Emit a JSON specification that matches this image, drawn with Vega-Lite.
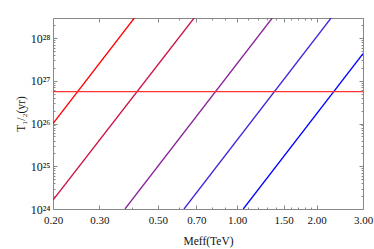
{
  "$schema": "https://vega.github.io/schema/vega-lite/v6.json",
  "width": 310,
  "height": 191,
  "autosize": "none",
  "padding": {"left": 53, "top": 18, "right": 11, "bottom": 40},
  "background": "white",
  "config": {
    "view": {"stroke": null},
    "font": "Liberation Serif",
    "axis": {
      "labelFont": "Liberation Serif",
      "titleFont": "Liberation Serif",
      "labelColor": "#111",
      "titleColor": "#111",
      "labelFontSize": 11,
      "titleFontSize": 11.5,
      "titleFontWeight": "normal",
      "domainColor": "#888",
      "tickColor": "#888",
      "grid": false
    }
  },
  "datasets": {
    "curves": [
      {"series": "s1", "M": 0.2, "T": 1e26},
      {"series": "s1", "M": 0.407, "T": 2.95e28},
      {"series": "s2", "M": 0.2, "T": 1.62e24},
      {"series": "s2", "M": 0.686, "T": 2.95e28},
      {"series": "s3", "M": 0.375, "T": 1e24},
      {"series": "s3", "M": 1.358, "T": 2.95e28},
      {"series": "s4", "M": 0.628, "T": 1e24},
      {"series": "s4", "M": 2.27, "T": 2.95e28},
      {"series": "s5", "M": 1.054, "T": 1e24},
      {"series": "s5", "M": 3.0, "T": 4.3e27}
    ],
    "bound": [
      {"M": 0.2, "T": 5.6e26},
      {"M": 3.0, "T": 5.6e26}
    ]
  },
  "layer": [
    {
      "data": {"name": "curves"},
      "mark": {"type": "line", "strokeWidth": 1.3, "clip": true},
      "encoding": {
        "x": {
          "field": "M", "type": "quantitative",
          "scale": {"type": "log", "domain": [0.2, 3.0], "nice": false},
          "axis": {
            "orient": "bottom",
            "title": "Meff(TeV)",
            "titlePadding": 8,
            "values": [0.2, 0.3, 0.4, 0.5, 0.6, 0.7, 0.8, 0.9, 1, 1.1, 1.2, 1.3, 1.4, 1.5, 1.6, 1.7, 1.8, 1.9, 2, 3],
            "labelExpr": "indexof([0.2, 0.3, 0.5, 0.7, 1, 1.5, 2, 3], datum.value) >= 0 ? format(datum.value, '.2f') : ''",
            "tickSize": {"condition": {"test": "indexof([0.2, 0.3, 0.5, 0.7, 1, 1.5, 2, 3], datum.value) >= 0", "value": -4}, "value": -2},
            "labelPadding": 9,
            "labelFlush": false,
            "labelOverlap": false
          }
        },
        "y": {
          "field": "T", "type": "quantitative",
          "scale": {"type": "log", "domain": [1e24, 2.95e28], "nice": false},
          "axis": {
            "orient": "left",
            "title": "T₁/₂(yr)",
            "titlePadding": 4,
            "values": [1e24, 2e24, 3e24, 4e24, 5e24, 6e24, 7e24, 8e24, 9e24, 1e25, 2e25, 3e25, 4e25, 5e25, 6e25, 7e25, 8e25, 9e25, 1e26, 2e26, 3e26, 4e26, 5e26, 6e26, 7e26, 8e26, 9e26, 1e27, 2e27, 3e27, 4e27, 5e27, 6e27, 7e27, 8e27, 9e27, 1e28, 2e28],
            "labelExpr": "datum.value == 1e24 ? '10²⁴' : datum.value == 1e25 ? '10²⁵' : datum.value == 1e26 ? '10²⁶' : datum.value == 1e27 ? '10²⁷' : datum.value == 1e28 ? '10²⁸' : ''",
            "labelFontSize": 12,
            "tickSize": {"condition": {"test": "indexof([1e24, 1e25, 1e26, 1e27, 1e28], datum.value) >= 0", "value": -4}, "value": -2},
            "labelPadding": 7,
            "labelFlush": false,
            "labelOverlap": false
          }
        },
        "color": {
          "field": "series", "type": "nominal",
          "scale": {"domain": ["s1", "s2", "s3", "s4", "s5"], "range": ["#ff0000", "#cc1144", "#882299", "#4422dd", "#0000ff"]},
          "legend": null
        }
      }
    },
    {
      "data": {"name": "bound"},
      "mark": {"type": "line", "strokeWidth": 1.2, "stroke": "#ff3333", "color": "#ff3333", "clip": true},
      "encoding": {
        "x": {
          "field": "M", "type": "quantitative",
          "scale": {"type": "log", "domain": [0.2, 3.0], "nice": false},
          "axis": {
            "orient": "top",
            "title": null,
            "labels": false,
            "values": [0.2, 0.3, 0.4, 0.5, 0.6, 0.7, 0.8, 0.9, 1, 1.1, 1.2, 1.3, 1.4, 1.5, 1.6, 1.7, 1.8, 1.9, 2, 3],
            "tickSize": {"condition": {"test": "indexof([0.2, 0.3, 0.5, 0.7, 1, 1.5, 2, 3], datum.value) >= 0", "value": -4}, "value": -2}
          }
        },
        "y": {
          "field": "T", "type": "quantitative",
          "scale": {"type": "log", "domain": [1e24, 2.95e28], "nice": false},
          "axis": {
            "orient": "right",
            "title": null,
            "labels": false,
            "values": [1e24, 2e24, 3e24, 4e24, 5e24, 6e24, 7e24, 8e24, 9e24, 1e25, 2e25, 3e25, 4e25, 5e25, 6e25, 7e25, 8e25, 9e25, 1e26, 2e26, 3e26, 4e26, 5e26, 6e26, 7e26, 8e26, 9e26, 1e27, 2e27, 3e27, 4e27, 5e27, 6e27, 7e27, 8e27, 9e27, 1e28, 2e28],
            "tickSize": {"condition": {"test": "indexof([1e24, 1e25, 1e26, 1e27, 1e28], datum.value) >= 0", "value": -4}, "value": -2}
          }
        }
      }
    }
  ],
  "resolve": {"axis": {"x": "independent", "y": "independent"}}
}
